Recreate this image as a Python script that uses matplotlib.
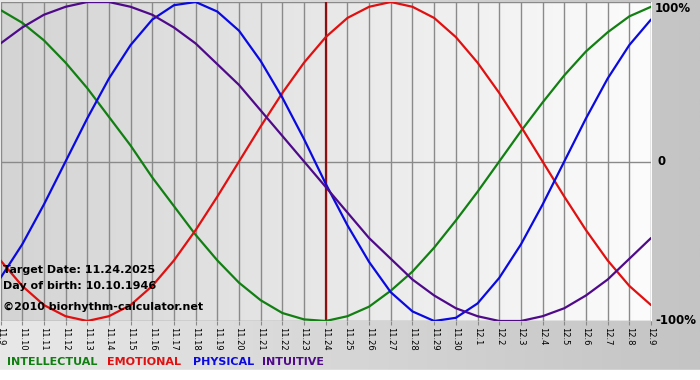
import numpy as np
import matplotlib
matplotlib.use("Agg")
import matplotlib.pyplot as plt
from matplotlib.colors import LinearSegmentedColormap

# day labels along the x axis (11.9 .. 12.9)
dates = ["11.9"] + ["11.%d" % d for d in range(10, 31)] + ["12.%d" % d for d in range(1, 10)]
target_idx = 15  # 11.24

# cycle values per day (-1 .. 1)
intellectual = [0.95, 0.87, 0.76, 0.62, 0.46, 0.28, 0.10, -0.10, -0.28, -0.46, -0.62,
                -0.76, -0.87, -0.95, -0.99, -1.00, -0.97, -0.91, -0.81, -0.69, -0.54,
                -0.37, -0.19, 0.00, 0.19, 0.37, 0.54, 0.69, 0.81, 0.91, 0.97]
emotional = [-0.62, -0.78, -0.90, -0.97, -1.00, -0.97, -0.90, -0.78, -0.62, -0.43, -0.22,
             0.00, 0.22, 0.43, 0.62, 0.78, 0.90, 0.97, 1.00, 0.97, 0.90,
             0.78, 0.62, 0.43, 0.22, 0.00, -0.22, -0.43, -0.62, -0.78, -0.90]
physical = [-0.73, -0.52, -0.27, 0.00, 0.27, 0.52, 0.73, 0.89, 0.98, 1.00, 0.94,
            0.82, 0.63, 0.40, 0.14, -0.14, -0.40, -0.63, -0.82, -0.94, -1.00,
            -0.98, -0.89, -0.73, -0.52, -0.27, 0.00, 0.27, 0.52, 0.73, 0.89]
intuitive = [0.74, 0.84, 0.92, 0.97, 1.00, 1.00, 0.97, 0.92, 0.84, 0.74, 0.61,
             0.48, 0.32, 0.16, 0.00, -0.16, -0.32, -0.48, -0.61, -0.74, -0.84,
             -0.92, -0.97, -1.00, -1.00, -0.97, -0.92, -0.84, -0.74, -0.61, -0.48]

series = [("INTELLECTUAL", intellectual, "#127f12"),
          ("EMOTIONAL", emotional, "#e01010"),
          ("PHYSICAL", physical, "#0a0ae0"),
          ("INTUITIVE", intuitive, "#4f0a8a")]

W, H = 700, 380
fig = plt.figure(figsize=(7, 3.8), dpi=100)

# figure background: grey gradient, white strip at the very bottom
bg = fig.add_axes([0, 0, 1, 1], zorder=-5)
bg_cmap = LinearSegmentedColormap.from_list("bg", ["#e8e8e8", "#c4c4c4"])
bg.imshow(np.linspace(0, 1, 256).reshape(1, -1), cmap=bg_cmap, aspect="auto",
          extent=[0, 1, 10 / H, 1])
bg.axhspan(0, 10 / H, color="white")
bg.set_xlim(0, 1)
bg.set_ylim(0, 1)
bg.axis("off")

ax = fig.add_axes([0.5 / W, 1 - 321 / H, 650.5 / W, 319 / H])
x = np.arange(len(dates))
ax.set_xlim(0, len(dates) - 1)
ax.set_ylim(-1, 1)

plot_cmap = LinearSegmentedColormap.from_list("plot", ["#d4d4d4", "#fcfcfc"])
ax.imshow(np.linspace(0, 1, 256).reshape(1, -1), cmap=plot_cmap, aspect="auto",
          extent=[0, len(dates) - 1, -1, 1], zorder=0)

for xi in x:
    ax.axvline(xi, color="#8a8a8a", lw=1, zorder=1)
for yv in (-1, 0, 1):
    ax.axhline(yv, color="#8a8a8a", lw=1, zorder=1)
ax.axvline(target_idx, color="#8b1010", lw=1.6, zorder=2)

for name, vals, col in series:
    ax.plot(x, vals, color=col, lw=1.6, zorder=3, solid_capstyle="round")

for s in ax.spines.values():
    s.set_visible(False)
ax.set_yticks([])
ax.set_xticks(x)
ax.set_xticklabels(dates, rotation=-90, fontsize=6)
ax.tick_params(axis="x", length=3, color="#8a8a8a", pad=1)

# percentage labels on the right
ax.annotate("100%", xy=(1, 1), xycoords=("axes fraction", "data"), xytext=(4, 0),
            textcoords="offset pixels", va="top", ha="left", fontsize=8.5, fontweight="bold")
ax.annotate("0", xy=(1, 0), xycoords=("axes fraction", "data"), xytext=(6, 0),
            textcoords="offset pixels", va="center", ha="left", fontsize=8.5, fontweight="bold")
ax.annotate("-100%", xy=(1, -1), xycoords=("axes fraction", "data"), xytext=(4, 0),
            textcoords="offset pixels", va="center", ha="left", fontsize=8.5, fontweight="bold")

# info text
fig.text(3 / W, 1 - 270 / H, "Target Date: 11.24.2025", fontsize=8, fontweight="bold", va="center")
fig.text(3 / W, 1 - 286 / H, "Day of birth: 10.10.1946", fontsize=8, fontweight="bold", va="center")
fig.text(3 / W, 1 - 307 / H, "\u00a92010 biorhythm-calculator.net", fontsize=8, fontweight="bold", va="center")

# legend
leg_x = [7, 107, 193, 262]
for (name, vals, col), lx in zip(series, leg_x):
    fig.text(lx / W, 1 - 362 / H, name, color=col, fontsize=8, fontweight="bold", va="center")

fig.savefig("out.png", dpi=100)
